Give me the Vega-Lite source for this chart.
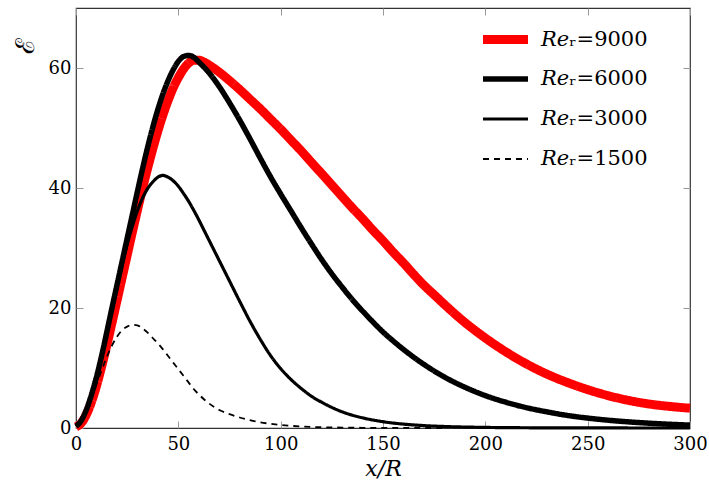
{
  "$schema": "https://vega.github.io/schema/vega-lite/v6.json",
  "width": 614,
  "height": 420,
  "autosize": {"type": "none"},
  "padding": {"left": 76, "top": 8, "right": 19, "bottom": 59},
  "background": "white",
  "config": {
    "view": {"stroke": "#333", "strokeWidth": 1.2},
    "axis": {"grid": false, "domain": false, "labelFont": "DejaVu Serif", "labelFontSize": 18, "labelColor": "#000", "tickColor": "#999", "tickSize": -7, "tickWidth": 1, "labelFlush": false, "titleFont": "DejaVu Serif", "titleColor": "#000", "titleFontWeight": "normal"}
  },
  "data": {"values": [
    {"s":"9000","x":0,"y":0.2},{"s":"9000","x":2.5,"y":0.8},{"s":"9000","x":5,"y":2.2},{"s":"9000","x":7.5,"y":4.3},{"s":"9000","x":10,"y":7},{"s":"9000","x":12.5,"y":10.2},{"s":"9000","x":15,"y":13.7},{"s":"9000","x":17.5,"y":17.4},{"s":"9000","x":20,"y":21.2},{"s":"9000","x":22.5,"y":25},{"s":"9000","x":25,"y":28.8},{"s":"9000","x":27.5,"y":32.6},{"s":"9000","x":30,"y":36.3},{"s":"9000","x":32.5,"y":39.9},{"s":"9000","x":35,"y":43.3},{"s":"9000","x":37.5,"y":46.5},{"s":"9000","x":40,"y":49.5},{"s":"9000","x":42.5,"y":52.2},{"s":"9000","x":45,"y":54.6},{"s":"9000","x":47.5,"y":56.7},{"s":"9000","x":50,"y":58.4},{"s":"9000","x":52.5,"y":59.8},{"s":"9000","x":55,"y":60.8},{"s":"9000","x":57.5,"y":61.3},{"s":"9000","x":60,"y":61.3},{"s":"9000","x":62.5,"y":61},{"s":"9000","x":65,"y":60.5},{"s":"9000","x":70,"y":59.3},{"s":"9000","x":75,"y":57.9},{"s":"9000","x":80,"y":56.4},{"s":"9000","x":85,"y":54.8},{"s":"9000","x":90,"y":53.2},{"s":"9000","x":95,"y":51.5},{"s":"9000","x":100,"y":49.8},{"s":"9000","x":105,"y":48},{"s":"9000","x":110,"y":46.2},{"s":"9000","x":115,"y":44.3},{"s":"9000","x":120,"y":42.4},{"s":"9000","x":125,"y":40.5},{"s":"9000","x":130,"y":38.6},{"s":"9000","x":135,"y":36.7},{"s":"9000","x":140,"y":34.9},{"s":"9000","x":145,"y":33},{"s":"9000","x":150,"y":31.2},{"s":"9000","x":155,"y":29.3},{"s":"9000","x":160,"y":27.5},{"s":"9000","x":165,"y":25.6},{"s":"9000","x":170,"y":23.8},{"s":"9000","x":175,"y":22.2},{"s":"9000","x":180,"y":20.6},{"s":"9000","x":190,"y":17.6},{"s":"9000","x":200,"y":15},{"s":"9000","x":210,"y":12.7},{"s":"9000","x":220,"y":10.7},{"s":"9000","x":230,"y":9},{"s":"9000","x":240,"y":7.6},{"s":"9000","x":250,"y":6.4},{"s":"9000","x":260,"y":5.4},{"s":"9000","x":270,"y":4.6},{"s":"9000","x":280,"y":4},{"s":"9000","x":290,"y":3.6},{"s":"9000","x":300,"y":3.3},
    {"s":"6000","x":0,"y":0.3},{"s":"6000","x":2.5,"y":1.2},{"s":"6000","x":5,"y":3},{"s":"6000","x":7.5,"y":5.5},{"s":"6000","x":10,"y":8.5},{"s":"6000","x":12.5,"y":12},{"s":"6000","x":15,"y":15.9},{"s":"6000","x":17.5,"y":19.9},{"s":"6000","x":20,"y":23.8},{"s":"6000","x":22.5,"y":27.7},{"s":"6000","x":25,"y":31.6},{"s":"6000","x":27.5,"y":35.5},{"s":"6000","x":30,"y":39.4},{"s":"6000","x":32.5,"y":43.2},{"s":"6000","x":35,"y":46.8},{"s":"6000","x":37.5,"y":50.1},{"s":"6000","x":40,"y":53.1},{"s":"6000","x":42.5,"y":55.7},{"s":"6000","x":45,"y":57.9},{"s":"6000","x":47.5,"y":59.7},{"s":"6000","x":50,"y":61.1},{"s":"6000","x":52.5,"y":61.9},{"s":"6000","x":55,"y":62.1},{"s":"6000","x":57.5,"y":61.8},{"s":"6000","x":60,"y":61},{"s":"6000","x":65,"y":59.2},{"s":"6000","x":70,"y":56.9},{"s":"6000","x":75,"y":54.2},{"s":"6000","x":80,"y":51.3},{"s":"6000","x":85,"y":48.2},{"s":"6000","x":90,"y":45},{"s":"6000","x":95,"y":41.9},{"s":"6000","x":100,"y":39},{"s":"6000","x":105,"y":36.2},{"s":"6000","x":110,"y":33.4},{"s":"6000","x":115,"y":30.7},{"s":"6000","x":120,"y":28.1},{"s":"6000","x":125,"y":25.7},{"s":"6000","x":130,"y":23.5},{"s":"6000","x":135,"y":21.4},{"s":"6000","x":140,"y":19.5},{"s":"6000","x":145,"y":17.7},{"s":"6000","x":150,"y":16},{"s":"6000","x":155,"y":14.5},{"s":"6000","x":160,"y":13.1},{"s":"6000","x":165,"y":11.8},{"s":"6000","x":170,"y":10.6},{"s":"6000","x":175,"y":9.5},{"s":"6000","x":180,"y":8.5},{"s":"6000","x":190,"y":6.8},{"s":"6000","x":200,"y":5.4},{"s":"6000","x":210,"y":4.3},{"s":"6000","x":220,"y":3.4},{"s":"6000","x":230,"y":2.7},{"s":"6000","x":240,"y":2.1},{"s":"6000","x":250,"y":1.65},{"s":"6000","x":260,"y":1.3},{"s":"6000","x":270,"y":1.02},{"s":"6000","x":280,"y":0.8},{"s":"6000","x":290,"y":0.62},{"s":"6000","x":300,"y":0.48},
    {"s":"3000","x":0,"y":0.3},{"s":"3000","x":2.5,"y":1.2},{"s":"3000","x":5,"y":3},{"s":"3000","x":7.5,"y":5.5},{"s":"3000","x":10,"y":8.5},{"s":"3000","x":12.5,"y":12},{"s":"3000","x":15,"y":15.8},{"s":"3000","x":17.5,"y":19.7},{"s":"3000","x":20,"y":23.5},{"s":"3000","x":22.5,"y":27.2},{"s":"3000","x":25,"y":30.6},{"s":"3000","x":27.5,"y":33.6},{"s":"3000","x":30,"y":36.2},{"s":"3000","x":32.5,"y":38.3},{"s":"3000","x":35,"y":39.9},{"s":"3000","x":37.5,"y":41},{"s":"3000","x":40,"y":41.8},{"s":"3000","x":42.5,"y":42.1},{"s":"3000","x":45,"y":41.8},{"s":"3000","x":47.5,"y":41.2},{"s":"3000","x":50,"y":40.3},{"s":"3000","x":52.5,"y":39.1},{"s":"3000","x":55,"y":37.8},{"s":"3000","x":57.5,"y":36.3},{"s":"3000","x":60,"y":34.7},{"s":"3000","x":62.5,"y":33},{"s":"3000","x":65,"y":31.3},{"s":"3000","x":67.5,"y":29.6},{"s":"3000","x":70,"y":27.9},{"s":"3000","x":75,"y":24.5},{"s":"3000","x":80,"y":21.1},{"s":"3000","x":85,"y":17.8},{"s":"3000","x":90,"y":14.8},{"s":"3000","x":95,"y":12.1},{"s":"3000","x":100,"y":9.9},{"s":"3000","x":105,"y":8.1},{"s":"3000","x":110,"y":6.6},{"s":"3000","x":115,"y":5.3},{"s":"3000","x":120,"y":4.3},{"s":"3000","x":130,"y":2.7},{"s":"3000","x":140,"y":1.7},{"s":"3000","x":150,"y":1.05},{"s":"3000","x":160,"y":0.65},{"s":"3000","x":170,"y":0.4},{"s":"3000","x":180,"y":0.25},{"s":"3000","x":200,"y":0.1},{"s":"3000","x":220,"y":0.04},{"s":"3000","x":250,"y":0.01},{"s":"3000","x":300,"y":0},
    {"s":"1500","x":0,"y":0.3},{"s":"1500","x":2.5,"y":1.2},{"s":"1500","x":5,"y":2.9},{"s":"1500","x":7.5,"y":5},{"s":"1500","x":10,"y":7.3},{"s":"1500","x":12.5,"y":9.6},{"s":"1500","x":15,"y":11.8},{"s":"1500","x":17.5,"y":13.7},{"s":"1500","x":20,"y":15.2},{"s":"1500","x":22.5,"y":16.3},{"s":"1500","x":25,"y":16.9},{"s":"1500","x":27.5,"y":17.2},{"s":"1500","x":30,"y":17.1},{"s":"1500","x":32.5,"y":16.6},{"s":"1500","x":35,"y":15.9},{"s":"1500","x":37.5,"y":15},{"s":"1500","x":40,"y":14.1},{"s":"1500","x":42.5,"y":13.1},{"s":"1500","x":45,"y":12},{"s":"1500","x":47.5,"y":10.9},{"s":"1500","x":50,"y":9.8},{"s":"1500","x":52.5,"y":8.7},{"s":"1500","x":55,"y":7.6},{"s":"1500","x":57.5,"y":6.5},{"s":"1500","x":60,"y":5.6},{"s":"1500","x":62.5,"y":4.8},{"s":"1500","x":65,"y":4.1},{"s":"1500","x":67.5,"y":3.5},{"s":"1500","x":70,"y":3},{"s":"1500","x":75,"y":2.3},{"s":"1500","x":80,"y":1.75},{"s":"1500","x":85,"y":1.3},{"s":"1500","x":90,"y":0.95},{"s":"1500","x":95,"y":0.7},{"s":"1500","x":100,"y":0.5},{"s":"1500","x":110,"y":0.26},{"s":"1500","x":120,"y":0.13},{"s":"1500","x":130,"y":0.07},{"s":"1500","x":140,"y":0.035},{"s":"1500","x":160,"y":0.01},{"s":"1500","x":180,"y":0}
  ]},
  "layer": [
    {
      "mark": {"type": "line", "interpolate": "monotone", "strokeCap": "butt", "strokeJoin": "round"},
      "encoding": {
        "x": {"field": "x", "type": "quantitative", "scale": {"domain": [0, 300], "nice": false}, "axis": {"values": [0, 50, 100, 150, 200, 250, 300], "title": "x/R", "titleFontStyle": "italic", "titleFontSize": 22, "labelPadding": 14, "titleY": 30, "titleBaseline": "top"}},
        "y": {"field": "y", "type": "quantitative", "scale": {"domain": [0, 70], "nice": false}, "axis": {"values": [0, 20, 40, 60], "title": "ℰ", "titleFontSize": 26, "titleAngle": -90, "titleX": -51, "titleY": 37, "titleAlign": "center", "titleBaseline": "middle", "labelPadding": 12}},
        "color": {"field": "s", "type": "nominal", "scale": {"domain": ["9000", "6000", "3000", "1500"], "range": ["#ff0000", "#000000", "#000000", "#000000"]},
          "legend": {"title": null, "orient": "none", "legendX": 407, "legendY": 9, "symbolType": "M-1.25,0H1.25", "symbolSize": 1296, "gridAlign": "all", "labelFont": "DejaVu Serif", "labelFontSize": 21, "labelColor": "#000", "labelOffset": 13, "rowPadding": 0, "labelExpr": "'𝑅𝑒ᵣ=' + datum.label"}},
        "strokeWidth": {"field": "s", "type": "nominal", "scale": {"type": "ordinal", "domain": ["9000", "6000", "3000", "1500"], "range": [9, 5.5, 3.2, 1.8]}},
        "strokeDash": {"field": "s", "type": "nominal", "scale": {"type": "ordinal", "domain": ["9000", "6000", "3000", "1500"], "range": [[1, 0], [1, 0], [1, 0], [6, 5]]}}
      }
    },
    {
      "mark": {"type": "line", "opacity": 0},
      "encoding": {
        "x": {"field": "x", "type": "quantitative", "axis": {"orient": "top", "values": [0, 50, 100, 150, 200, 250, 300], "labels": false, "title": null}},
        "y": {"field": "y", "type": "quantitative", "axis": {"orient": "right", "values": [0, 20, 40, 60], "labels": false, "title": null}}
      }
    }
  ],
  "resolve": {"axis": {"x": "independent", "y": "independent"}}
}
